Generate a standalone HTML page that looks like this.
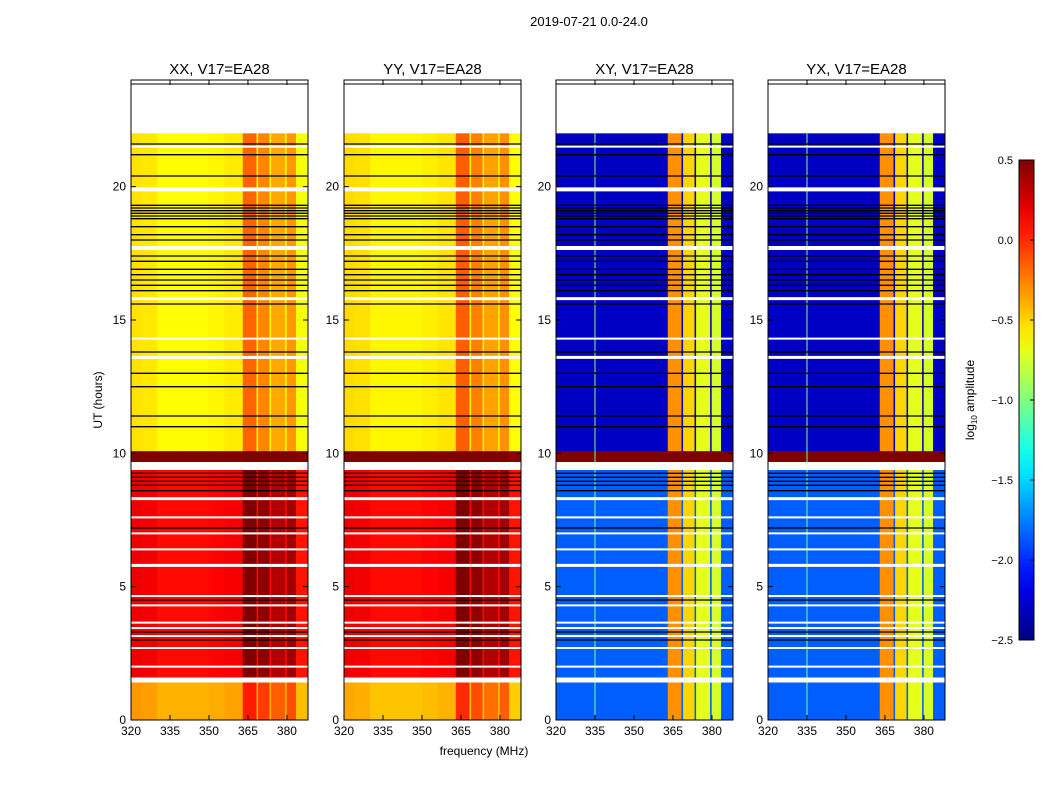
<!DOCTYPE html>
<html><head><meta charset="utf-8">
<style>
body{margin:0;background:#fff;}
svg{display:block;font-family:"Liberation Sans",sans-serif;}
</style></head>
<body>
<svg id="chart" width="1050" height="800" viewBox="0 0 1050 800">
<defs>
<linearGradient id="cbgrad" x1="0" y1="1" x2="0" y2="0"></linearGradient>
</defs>
<text x="589" y="26" font-size="13" text-anchor="middle">2019-07-21 0.0-24.0</text>
<g id="panels"></g>
<text x="484" y="755" font-size="12" text-anchor="middle">frequency (MHz)</text>
<text transform="translate(102,400) rotate(-90)" font-size="12" text-anchor="middle">UT (hours)</text>
<g id="colorbar"></g>
<text transform="translate(974,400) rotate(-90)" font-size="12" text-anchor="middle">log<tspan font-size="8" dy="3">10</tspan><tspan dy="-3"> amplitude</tspan></text>
</svg>
<script>
// ---- data ----
const panelNames = ['XX, V17=EA28','YY, V17=EA28','XY, V17=EA28','YX, V17=EA28'];
const rowTimes = [0, 1.5, 9.4, 10.1, 22];
const xxRowVals = [-0.4, 0.1, 0.5, -0.62];
const yyRowVals = [-0.45, 0.1, 0.5, -0.6];
const xyRowVals = [-1.85, -1.85, 0.5, -2.3];
const yxRowVals = [-1.85, -1.85, 0.5, -2.3];
const freqEdges = [320,324,330,340,350,356,363,368.3,368.9,373.3,373.9,379.3,379.9,383.5,388.1];
const parOffsets = [0.08,0.06,0,0,0.02,0.05,0.45,0.0,0.35,0.0,0.25,0.0,0.3,-0.03];
const crossVals = [-9,-9,-9,-9,-9,-9,-0.3,-2.3,-0.5,-2.3,-0.7,-2.3,-0.75,-9];
const whiteLines = [1.5,2.0,2.7,3.15,3.45,3.65,4.3,4.65,5.8,6.4,7.0,7.6,8.3,9.45,9.6,13.6,14.3,15.8,17.7,19.9,21.5];
const whiteWidths = [5,2,2,2,2,2,2,2,3,2,2,2,3,4,4,3,2,3,4,4,2];
const blackLines = [3.0,3.3,4.5,7.2,8.6,8.8,8.95,9.1,9.25,11.0,11.4,12.5,13.0,13.8,15.6,16.1,16.3,16.5,16.7,16.9,17.2,17.4,18.0,18.2,18.5,18.8,18.9,19.0,19.1,19.2,19.3,20.4,21.2,21.6];
const xTicks = [320,335,350,365,380];
const yTicks = [0,5,10,15,20];
const cbTicks = [0.5,0.0,-0.5,-1.0,-1.5,-2.0,-2.5];
// ---- scales ----
const panelX = [131,344,556,768], PW = 177, PT = 80, PB = 720;
const vmin=-2.5, vmax=0.5;
function X(p,f){return panelX[p]+(f-320)*PW/68.1;}
function Y(t){return PB-(t)*(PB-PT)/24;}
function jet(v){
  let t=(v-vmin)/(vmax-vmin); t=Math.max(0,Math.min(1,t));
  const c=x=>Math.round(255*Math.max(0,Math.min(1,x)));
  return `rgb(${c(1.5-Math.abs(4*t-3))},${c(1.5-Math.abs(4*t-2))},${c(1.5-Math.abs(4*t-1))})`;
}
const NS='http://www.w3.org/2000/svg';
function mk(tag,attrs,parent){const e=document.createElementNS(NS,tag);for(const k in attrs)e.setAttribute(k,attrs[k]);parent.appendChild(e);return e;}
const rowVals=[xxRowVals,yyRowVals,xyRowVals,yxRowVals];
const G=document.getElementById('panels');
for(let p=0;p<4;p++){
  const g=mk('g',{},G);
  
  
  const cp=mk('clipPath',{id:'cp'+p},g);
  mk('rect',{x:panelX[p],y:PT,width:PW,height:PB-PT},cp);
  const hm=mk('g',{'clip-path':`url(#cp${p})`},g);
  for(let s=0;s<rowTimes.length-1;s++){
    for(let b=0;b<freqEdges.length-1;b++){
      let v = p<2 ? rowVals[p][s]+parOffsets[b] : Math.max(rowVals[p][s],crossVals[b]);
      const r=mk('rect',{x:X(p,freqEdges[b]),y:Y(rowTimes[s+1]),width:X(p,freqEdges[b+1])-X(p,freqEdges[b])+0.5,height:Y(rowTimes[s])-Y(rowTimes[s+1])+0.5,fill:jet(v)},hm);
      
      
    }
  }
  if(p>=2){
    const vl=mk('line',{x1:X(p,335),x2:X(p,335),y1:Y(22),y2:PB,stroke:'#7fff7f','stroke-width':1},hm);
    
    
  }
  blackLines.forEach(t=>{
    const l=mk('line',{x1:panelX[p],x2:panelX[p]+PW,y1:Y(t),y2:Y(t),stroke:'#000','stroke-width':1.3},hm);
    
    
  });
  whiteLines.forEach((t,i)=>{
    const l=mk('line',{x1:panelX[p],x2:panelX[p]+PW,y1:Y(t),y2:Y(t),stroke:'#fff','stroke-width':whiteWidths[i]},hm);
    
    
  });
  mk('line',{x1:panelX[p],x2:panelX[p]+PW,y1:Y(23.85),y2:Y(23.85),stroke:'#000','stroke-width':1},hm);
  const fr=mk('rect',{x:panelX[p],y:PT,width:PW,height:PB-PT,fill:'none',stroke:'#000','stroke-width':1},g);
  
  
  const tt=mk('text',{x:panelX[p]+PW/2,y:74,'font-size':15,'text-anchor':'middle'},g);
  tt.textContent=panelNames[p];
  
  
  xTicks.forEach(f=>{
    const x=X(p,f);
    mk('line',{x1:x,x2:x,y1:PB,y2:PB-5,stroke:'#000'},g);
    mk('line',{x1:x,x2:x,y1:PT,y2:PT+5,stroke:'#000'},g);
    const t=mk('text',{x:x,y:PB+15,'font-size':12,'text-anchor':'middle'},g);
    t.textContent=f;
    
    
  });
  yTicks.forEach(h=>{
    const y=Y(h);
    mk('line',{x1:panelX[p],x2:panelX[p]+5,y1:y,y2:y,stroke:'#000'},g);
    mk('line',{x1:panelX[p]+PW,x2:panelX[p]+PW-5,y1:y,y2:y,stroke:'#000'},g);
    const t=mk('text',{x:panelX[p]-5,y:y+4,'font-size':12,'text-anchor':'end'},g);
    t.textContent=h;
    
    
  });
}
// colorbar
const grad=document.getElementById('cbgrad');
for(let i=0;i<=20;i++){mk('stop',{offset:i/20,'stop-color':jet(vmin+(vmax-vmin)*i/20)},grad);}
const CB=document.getElementById('colorbar');
const cbx=1019,cbw=15,cbt=160,cbb=640;
mk('rect',{x:cbx,y:cbt,width:cbw,height:cbb-cbt,fill:'url(#cbgrad)',stroke:'#000'},CB);
cbTicks.forEach(v=>{
  const y=cbb-(v-vmin)/(vmax-vmin)*(cbb-cbt);
  mk('line',{x1:cbx+cbw-4,x2:cbx+cbw,y1:y,y2:y,stroke:'#000'},CB);
  const t=mk('text',{x:cbx-6,y:y+4,'font-size':11,'text-anchor':'end'},CB);
  t.textContent=(v<0?'\u2212':'')+Math.abs(v).toFixed(1);
  
  
});
</script>
</body></html>
